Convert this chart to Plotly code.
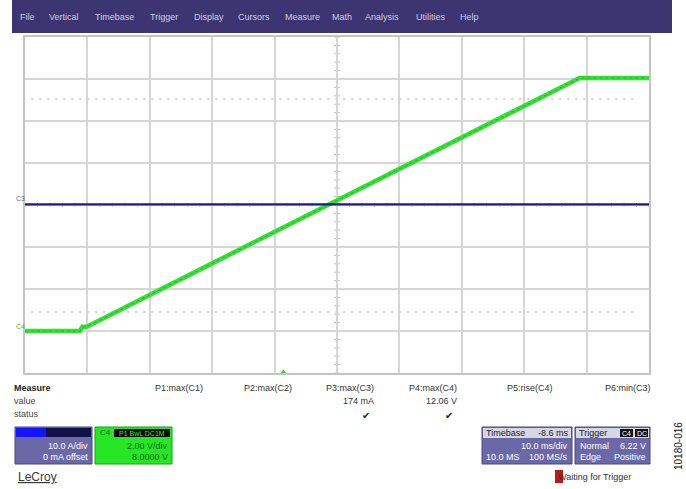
import plotly.graph_objects as go

W, H = 686, 489

# C4 trace: time (ms, relative to screen centre) and voltage (V)
c4_time = [-50.0, -41.2, -40.8, -40.1, -20.0, 0.0, 20.0, 38.9, 50.0]
c4_volt = [0.0, 0.0, 0.2, 0.2, 3.22, 6.21, 9.2, 12.05, 12.05]
# C3 trace: time (ms) and current (A)
c3_time = [-50.0, 50.0]
c3_amp = [0.17, 0.17]

menu_items = ["File", "Vertical", "Timebase", "Trigger", "Display", "Cursors",
              "Measure", "Math", "Analysis", "Utilities", "Help"]
menu_x = [18, 47, 93, 148, 192, 236, 283, 330, 363, 414, 458]

meas_labels = ["P1:max(C1)", "P2:max(C2)", "P3:max(C3)", "P4:max(C4)", "P5:rise(C4)", "P6:min(C3)"]
meas_values = ["", "", "174 mA", "12.06 V", "", ""]
meas_status = ["", "", "✔", "✔", "", ""]
meas_right = [205, 294, 376, 459, 555, 653]

trig_level = 6.22
trig_delay = -8.6

# ---- helpers ----
def px(x):
    return x / W

def py(y):
    return 1 - y / H

X0, X1, Y0, Y1 = 25, 649, 37, 373

fig = go.Figure()

fig.add_trace(go.Scatter(x=c3_time, y=c3_amp, mode="lines", yaxis="y2",
                         line=dict(color="#1c1c8a", width=2.2), hoverinfo="skip"))
fig.add_trace(go.Scatter(x=c4_time, y=c4_volt, mode="lines",
                         line=dict(color="#33e033", width=4.5), hoverinfo="skip"))
fig.add_trace(go.Scatter(x=c4_time, y=c4_volt, mode="lines",
                         line=dict(color="#22c422", width=1.2, dash="dot"), hoverinfo="skip"))
# trigger markers
fig.add_trace(go.Scatter(x=[51.3], y=[trig_level], mode="markers", cliponaxis=False,
                         marker=dict(symbol="triangle-left", size=8, color="#33e033"),
                         hoverinfo="skip"))
fig.add_trace(go.Scatter(x=[trig_delay], y=[-2.0], mode="markers", cliponaxis=False,
                         marker=dict(symbol="triangle-up", size=7, color="#33d033"),
                         hoverinfo="skip"))

shapes = []
# menu bar
shapes.append(dict(type="rect", xref="paper", yref="paper", x0=px(12), x1=px(672),
                   y0=py(33), y1=py(0), fillcolor="#3c3571", line=dict(width=0), layer="below"))
# dotted level rows
for v in [11.05, 0.9]:
    shapes.append(dict(type="line", xref="x", yref="y", x0=-49, x1=48, y0=v, y1=v,
                       line=dict(color="#c4c4c4", width=1.5, dash="2px,6px"), layer="below"))
# centre crosshair minor ticks
for i in range(-25, 26):
    t = i * 2.0
    shapes.append(dict(type="line", xref="x", yref="paper", x0=t, x1=t,
                       y0=py(205) - 0.004, y1=py(205) + 0.004,
                       line=dict(color="#b8b8b8", width=1), layer="below"))
for i in range(-20, 21):
    v = 6 + i * 0.4
    shapes.append(dict(type="line", xref="paper", yref="y", x0=px(337) - 0.004, x1=px(337) + 0.004,
                       y0=v, y1=v, line=dict(color="#b8b8b8", width=1), layer="below"))

# C3 box
shapes.append(dict(type="rect", xref="paper", yref="paper", x0=px(15), x1=px(92), y0=py(464), y1=py(427),
                   fillcolor="#6b68a8", line=dict(color="#4a4780", width=1)))
shapes.append(dict(type="rect", xref="paper", yref="paper", x0=px(16), x1=px(46), y0=py(437), y1=py(428),
                   fillcolor="#1414ff", line=dict(width=0)))
shapes.append(dict(type="rect", xref="paper", yref="paper", x0=px(46), x1=px(91), y0=py(437), y1=py(428),
                   fillcolor="#12124a", line=dict(width=0)))
# C4 box
shapes.append(dict(type="rect", xref="paper", yref="paper", x0=px(95), x1=px(172), y0=py(464), y1=py(427),
                   fillcolor="#26e626", line=dict(color="#1aa01a", width=1)))
shapes.append(dict(type="rect", xref="paper", yref="paper", x0=px(114), x1=px(170), y0=py(437), y1=py(429),
                   fillcolor="#0a0a0a", line=dict(width=0)))
# Timebase box
shapes.append(dict(type="rect", xref="paper", yref="paper", x0=px(482), x1=px(572), y0=py(464), y1=py(427),
                   fillcolor="#6b68a8", line=dict(color="#4a4780", width=1)))
shapes.append(dict(type="rect", xref="paper", yref="paper", x0=px(483), x1=px(571), y0=py(438), y1=py(428),
                   fillcolor="#d6d6e4", line=dict(width=0)))
# Trigger box
shapes.append(dict(type="rect", xref="paper", yref="paper", x0=px(575), x1=px(650), y0=py(464), y1=py(427),
                   fillcolor="#6b68a8", line=dict(color="#4a4780", width=1)))
shapes.append(dict(type="rect", xref="paper", yref="paper", x0=px(576), x1=px(649), y0=py(438), y1=py(428),
                   fillcolor="#d6d6e4", line=dict(width=0)))
shapes.append(dict(type="rect", xref="paper", yref="paper", x0=px(620), x1=px(633), y0=py(437), y1=py(429),
                   fillcolor="#111111", line=dict(width=0)))
shapes.append(dict(type="rect", xref="paper", yref="paper", x0=px(635), x1=px(648), y0=py(437), y1=py(429),
                   fillcolor="#111111", line=dict(width=0)))
# waiting red square
shapes.append(dict(type="rect", xref="paper", yref="paper", x0=px(555), x1=px(563), y0=py(483), y1=py(470),
                   fillcolor="#c01818", line=dict(width=0)))

ann = []
FONT = "Liberation Sans"

def text(x, y, s, size=9, color="#222222", anchor="left", bold=False, angle=0):
    ann.append(dict(xref="paper", yref="paper", x=px(x), y=py(y), text=("<b>%s</b>" % s) if bold else s,
                    showarrow=False, xanchor=anchor, yanchor="middle", textangle=angle,
                    font=dict(family=FONT, size=size, color=color)))

for name, x in zip(menu_items, menu_x):
    text(x, 17, name, size=9, color="#cfcfe2")

text(14, 198, "C3", size=7, color="#6a6aa0")
text(14, 326, "C4", size=7, color="#33c033")

text(12, 388, "Measure", size=9, color="#222222", bold=True)
text(12, 401, "value", size=9, color="#444444")
text(12, 414, "status", size=9, color="#444444")
for lab, val, st, r in zip(meas_labels, meas_values, meas_status, meas_right):
    text(r, 388, lab, size=9, color="#333333", anchor="right")
    if val:
        text(r, 401, val, size=9, color="#333333", anchor="right")
    if st:
        text(r - 4, 415, st, size=10, color="#222222", anchor="right")

text(90, 446, "10.0 A/div", size=9, color="#ffffff", anchor="right")
text(90, 457, "0 mA offset", size=9, color="#ffffff", anchor="right")
text(98, 432, "C4", size=8, color="#0a6a0a")
text(142, 433, "P1 BwL DC1M", size=7, color="#33e033", anchor="center")
text(170, 446, "2.00 V/div", size=9, color="#0a6a0a", anchor="right")
text(170, 457, "8.0000 V", size=9, color="#0a6a0a", anchor="right")
text(16, 477, "<u>LeCroy</u>", size=12, color="#3a3a3a")

text(484, 433, "Timebase", size=9, color="#222222")
text(571, 433, "-8.6 ms", size=9, color="#222222", anchor="right")
text(570, 446, "10.0 ms/div", size=9, color="#ffffff", anchor="right")
text(484, 457, "10.0 MS", size=9, color="#ffffff")
text(570, 457, "100 MS/s", size=9, color="#ffffff", anchor="right")
text(577, 433, "Trigger", size=9, color="#222222")
text(626.5, 433, "C4", size=7, color="#ffffff", anchor="center")
text(641.5, 433, "DC", size=7, color="#ffffff", anchor="center")
text(578, 446, "Normal", size=9, color="#ffffff")
text(648, 446, "6.22 V", size=9, color="#ffffff", anchor="right")
text(578, 457, "Edge", size=9, color="#ffffff")
text(648, 457, "Positive", size=9, color="#ffffff", anchor="right")
text(556, 477, "Waiting for Trigger", size=9, color="#333333")
text(678, 446, "10180-016", size=10, color="#111111", anchor="center", angle=-90)

fig.update_layout(
    width=W, height=H, margin=dict(l=0, r=0, t=0, b=0),
    paper_bgcolor="white", plot_bgcolor="white", showlegend=False,
    shapes=shapes, annotations=ann,
    xaxis=dict(domain=[px(X0), px(X1)], range=[-50, 50], dtick=10, tick0=-50,
               showgrid=True, gridcolor="#d6d6d6", gridwidth=1.5, zeroline=False,
               showticklabels=False, ticks="", showline=True, linecolor="#c4c4c4",
               linewidth=2, mirror=True, fixedrange=True),
    yaxis=dict(domain=[py(Y1), py(Y0)], range=[-2, 14], dtick=2, tick0=-2,
               showgrid=True, gridcolor="#d6d6d6", gridwidth=1.5, zeroline=False,
               showticklabels=False, ticks="", showline=True, linecolor="#c4c4c4",
               linewidth=2, mirror=True, fixedrange=True),
    yaxis2=dict(overlaying="y", range=[-40, 40], showgrid=False, zeroline=False,
                showticklabels=False, visible=False, fixedrange=True),
)

fig.write_html("out.html", config={"displayModeBar": False},
               post_script="document.body.style.margin='0';document.body.style.overflow='hidden';")
